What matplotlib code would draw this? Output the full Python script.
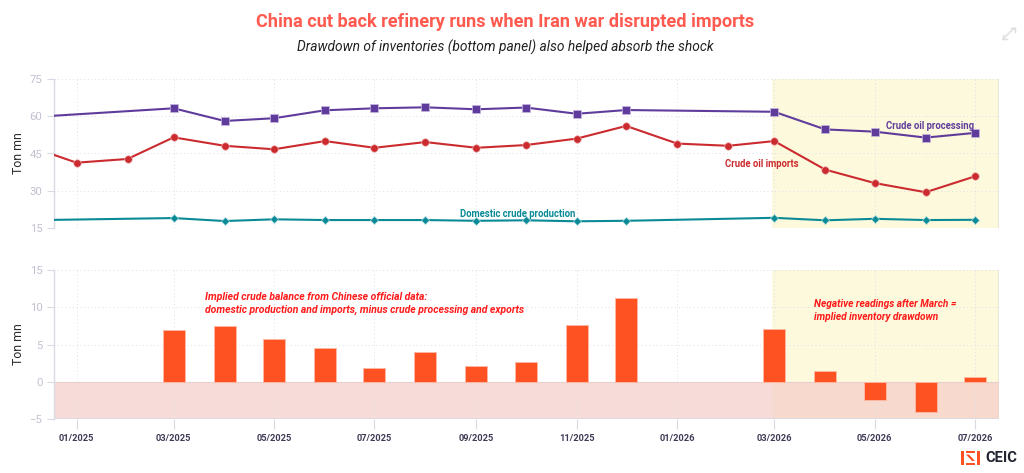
import matplotlib
matplotlib.use('Agg')
import matplotlib.pyplot as plt
import matplotlib.dates as mdates
from matplotlib.lines import Line2D
from matplotlib.patches import Polygon, Rectangle
import numpy as np
import pandas as pd

plt.rcParams['font.family'] = ['Roboto', 'DejaVu Sans']

W, H = 1024, 473

# monthly axis, Dec 2024 sits just outside the left edge
months = pd.date_range('2024-12-01', '2026-07-01', freq='MS')
nan = float('nan')

processing = [59.5, nan, nan, 63.2, 58.1, 59.2, 62.4, 63.2, 63.6, 62.8, 63.5, 61.0, 62.5,
              nan, nan, 61.8, 54.7, 53.8, 51.4, 53.3]
imports = [48.4, 41.3, 42.8, 51.5, 48.1, 46.7, 50.0, 47.3, 49.6, 47.3, 48.4, 51.0, 56.1,
           49.0, 48.1, 50.0, 38.5, 33.1, 29.4, 35.8]
production = [18.1, nan, nan, 19.0, 17.8, 18.5, 18.2, 18.2, 18.2, 17.9, 18.1, 17.7, 17.9,
              nan, nan, 19.1, 18.1, 18.7, 18.2, 18.3]
balance = [nan, nan, nan, 6.9, 7.5, 5.75, 4.5, 1.9, 4.05, 2.15, 2.7, 7.6, 11.2,
           nan, nan, 7.1, 1.45, -2.4, -4.0, 0.65]

top_ticks = [15, 30, 45, 60, 75]
bottom_ticks = [-5, 0, 5, 10, 15]

x_left = pd.Timestamp('2024-12-18')
x_right = pd.Timestamp('2026-07-15 14:00')
shade_start = pd.Timestamp('2026-02-27 12:00')

PURPLE = '#5f3c9c'
RED = '#cb2a2e'
TEAL = '#0a8a96'
ORANGE = '#ff5222'
GRID = '#dedee8'
SPINE = '#dadae4'
TICK = '#c2c1d1'
NOTE = '#ff1a1a'


def ax_at(x0, x1, y0, y1):
    return fig.add_axes([x0 / W, 1 - y1 / H, (x1 - x0) / W, (y1 - y0) / H])


def style_axis(ax, ticks):
    ax.set_xlim(x_left, x_right)
    ax.set_ylim(ticks[0], ticks[-1])
    ax.set_yticks(ticks)
    ax.xaxis.set_major_locator(mdates.MonthLocator(bymonth=[1, 3, 5, 7, 9, 11]))
    ax.xaxis.set_major_formatter(mdates.DateFormatter('%m/%Y'))
    ax.set_axisbelow(True)
    ax.grid(True, linestyle=(0, (1, 2.8)), linewidth=0.7, color=GRID)
    for s in ['top', 'right', 'bottom']:
        ax.spines[s].set_visible(False)
    ax.spines['left'].set_color(SPINE)
    ax.spines['left'].set_linewidth(1.0)
    ax.tick_params(axis='y', length=5, width=0.8, color=SPINE, labelcolor=TICK, labelsize=8.2, pad=3)
    ax.set_ylabel('Ton mn', fontsize=8.8, color='#2b2b2b')
    ax.yaxis.set_label_coords((25 - 53.5) / (999 - 53.5), 0.5)
    ax.axvspan(shade_start, x_right, color='#fdf9dc', lw=0, zorder=0)
    ax.axvline(x_right, color='#e9e8d8', lw=1.6, zorder=0.2)


def draw_line(ax, values, color, marker, size, halo):
    v = np.array(values)
    ok = ~np.isnan(v)
    ax.plot(months[ok], v[ok], color=color, lw=1.5, marker=marker, ms=size,
            markeredgecolor=halo, markeredgewidth=0.5, zorder=3, solid_joinstyle='round')


def label(ax, when, y, text, color):
    ax.text(pd.Timestamp(when), y, text, color=color, fontsize=6.85, fontweight='bold',
            ha='left', va='center', zorder=4)


def note(ax, when, y, text, size):
    ax.text(pd.Timestamp(when), y, text, color=NOTE, fontsize=size, style='italic', fontweight='bold',
            linespacing=1.42, ha='left', va='center', zorder=4)


fig = plt.figure(figsize=(W / 100, H / 100), dpi=100, facecolor='white')

ax1 = ax_at(53.5, 999, 79, 228)
style_axis(ax1, top_ticks)
ax1.tick_params(axis='x', length=0, labelbottom=False)
draw_line(ax1, processing, PURPLE, 's', 5.4, '#c8b9df')
draw_line(ax1, imports, RED, 'o', 5.4, '#eeb0b0')
draw_line(ax1, production, TEAL, 'D', 3.8, '#a5d6da')

label(ax1, '2026-05-08', 56.1, 'Crude oil processing', PURPLE)
label(ax1, '2026-01-30', 40.8, 'Crude oil imports', RED)
label(ax1, '2025-08-22', 20.7, 'Domestic crude production', TEAL)

ax2 = ax_at(53.5, 999, 270, 419)
style_axis(ax2, bottom_ticks)
ax2.axhspan(-5, 0, color='#f5cdc8', alpha=0.7, lw=0, zorder=0.3)
ax2.axhline(0, color='#eccac6', lw=0.8, zorder=0.4)
ax2.axhline(-5, color=SPINE, lw=1.2, zorder=0.4)
ax2.tick_params(axis='x', length=7, width=0.8, color=SPINE, labelcolor='#3f3b56', labelsize=6.7, pad=3.5)
for lab in ax2.get_xticklabels():
    lab.set_fontweight('bold')
bars = ax2.bar(months, balance, width=13.3, color=ORANGE, edgecolor='#ffb7a1', linewidth=0.7, zorder=3)
for b in bars:
    b.set_joinstyle('round')

note(ax2, '2025-03-20', 10.5, 'Implied crude balance from Chinese official data:\n'
     'domestic production and imports, minus crude processing and exports', 7.5)
note(ax2, '2026-03-25', 9.6, 'Negative readings after March =\nimplied inventory drawdown', 7.3)

fig.text(505.5 / W, 1 - 22 / H, 'China cut back refinery runs when Iran war disrupted imports',
         color='#ff5a50', fontsize=13.1, fontweight='bold', ha='center', va='center')
fig.text(505.5 / W, 1 - 47.5 / H, 'Drawdown of inventories (bottom panel) also helped absorb the shock',
         color='#222222', fontsize=9.9, style='italic', ha='center', va='center')

# expand icon, top right
for seg in [[(1003, 39), (1009, 33)], [(1010, 32), (1015, 28)], [(1003, 39), (1003, 35)],
            [(1003, 39), (1007, 39)], [(1015, 28), (1011, 28)], [(1015, 28), (1015, 32)]]:
    fig.add_artist(Line2D([p[0] / W for p in seg], [1 - p[1] / H for p in seg], color='#dcdcdc', lw=1))

# CEIC logo
for r in [(961, 451, 3, 13.5), (976.5, 451, 3, 13.5), (966, 451, 9, 2), (966, 462.5, 9, 2)]:
    fig.add_artist(Rectangle((r[0] / W, 1 - (r[1] + r[3]) / H), r[2] / W, r[3] / H,
                             color=ORANGE, lw=0, transform=fig.transFigure))
fig.add_artist(Polygon([(966 / W, 1 - 454.5 / H), (969 / W, 1 - 454.5 / H), (975 / W, 1 - 461 / H), (972 / W, 1 - 461 / H)],
                       closed=True, color=ORANGE, lw=0, transform=fig.transFigure))
fig.text(985 / W, 1 - 458 / H, 'CEIC', color='#1f2430', fontsize=10.6, fontweight='bold', ha='left', va='center')

fig.savefig('out.png', dpi=100)
